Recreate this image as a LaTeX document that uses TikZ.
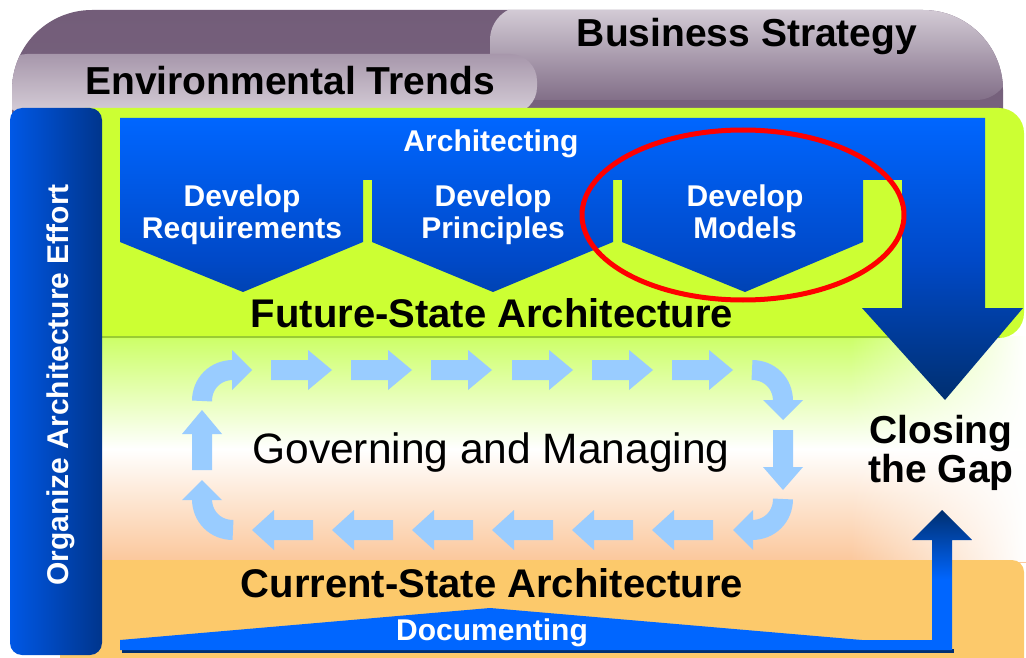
\documentclass[tikz,border=0pt]{standalone}
\usepackage{fontspec}
\setmainfont{Liberation Sans}
\usetikzlibrary{fadings}
\definecolor{purpD}{HTML}{735D79}
\definecolor{purpM}{HTML}{826F88}
\definecolor{lilac}{HTML}{D6CED8}
\definecolor{lilacM}{HTML}{A797AB}
\definecolor{limeG}{HTML}{CCFF33}
\definecolor{limeEdge}{HTML}{99CC33}
\definecolor{lightG}{HTML}{CCFF66}
\definecolor{peach}{HTML}{FBC79B}
\definecolor{orangeP}{HTML}{FCC96B}
\definecolor{cyc}{HTML}{99CCFF}
\definecolor{blueA}{HTML}{0066FF}
\definecolor{blueB}{HTML}{0049C8}
\definecolor{blueC}{HTML}{002F70}
\definecolor{barL}{HTML}{0058E6}
\definecolor{barR}{HTML}{00358C}
\tikzset{
  whitelbl/.style={font=\bfseries\fontsize{30}{32}\selectfont, text=white, inner sep=0pt, anchor=base},
  biglbl/.style={font=\bfseries\fontsize{40}{42}\selectfont, text=black, inner sep=0pt, anchor=base},
  toplbl/.style={font=\bfseries\fontsize{39}{41}\selectfont, text=black, inner sep=0pt, anchor=base},
  cycshaft/.style={draw=cyc, line width=20pt},
  cychead/.style={fill=cyc},
}
\begin{document}
\begin{tikzpicture}[x=1pt,y=-1pt]
\useasboundingbox (0,0) rectangle (1026,658);
\fill[white] (0,0) rectangle (1026,658);

% purple top band
\shade[top color=purpD, bottom color=purpM, rounded corners=80pt]
  (12,400) -- (12,10) -- (1003,10) -- (1003,400) -- cycle;
\begin{scope}
  \clip[rounded corners=80pt] (12,400) -- (12,10) -- (1003,10) -- (1003,400) -- cycle;
  \shade[top color=lilac, bottom color=purpM, rounded corners=34pt] (490,6) rectangle (1010,100);
  \shade[top color=lilacM, bottom color=lilac, rounded corners=27pt] (0,54) rectangle (537,114);
\end{scope}
\node[toplbl] (bs) at (747,47) {Business Strategy};
\node[toplbl] (et) at (290,95) {Environmental Trends};

% middle gradient band
\shade[top color=lightG, bottom color=peach, middle color=white] (60,336) rectangle (1026,562);
\fill[white, path fading=west] (850,336) rectangle (1026,562);

% future-state (green) panel
\fill[limeG, rounded corners=25pt] (60,108) rectangle (1024,338);
\draw[limeEdge, line width=2pt] (100,337) -- (1000,337);

% current-state (orange) panel
\fill[orangeP, rounded corners=12pt] (60,560) rectangle (1024,690);

% architecting blue shape with down arrow
\shade[top color=blueA, bottom color=blueC, middle color=blueB]
  (120,118) -- (985,118) -- (985,308) -- (1023,308) -- (945,400) -- (862,308)
  -- (902,308) -- (902,180) -- (863,180) -- (863,242) -- (745,292) -- (622,242)
  -- (622,180) -- (613,180) -- (613,242) -- (493,292) -- (372,242) -- (372,180)
  -- (363,180) -- (363,242) -- (243,292) -- (120,242) -- cycle;

\node[whitelbl] (arch) at (491,152) {Architecting};
\node[whitelbl] (dr1) at (242,207) {Develop};
\node[whitelbl] (dr2) at (242,238) {Requirements};
\node[whitelbl] (dp1) at (493,207) {Develop};
\node[whitelbl] (dp2) at (493,238) {Principles};
\node[whitelbl] (dm1) at (745,207) {Develop};
\node[whitelbl] (dm2) at (745,238) {Models};
\node[biglbl] (fsa) at (492,327) {Future-State Architecture};

% red highlight ellipse
\draw[red, line width=5pt] (743,215) ellipse [x radius=161, y radius=85];

% governing cycle arrows
\foreach \x in {271,351,431,512,592,672}
  \fill[cychead] (\x,360) -- ++(37,0) -- ++(0,-10) -- ++(24,20) -- ++(-24,20) -- ++(0,-10) -- ++(-37,0) -- cycle;
\foreach \x in {252,332,412,492,572,652}
  \fill[cychead] (\x,530) -- ++(22,-20) -- ++(0,10) -- ++(39,0) -- ++(0,20) -- ++(-39,0) -- ++(0,10) -- cycle;
% top-left corner
\draw[cycshaft] (202,401) .. controls (202,383.4) and (215.4,370) .. (233,370);
\fill[cychead] (232,350) -- (252,370) -- (232,390) -- cycle;
% top-right corner
\draw[cycshaft] (752,370) .. controls (769.6,370) and (783,383.4) .. (783,401);
\fill[cychead] (763,400) -- (783,420) -- (803,400) -- cycle;
% right down
\fill[cychead] (773,430) -- (793,430) -- (793,467) -- (803,467) -- (783,490) -- (763,467) -- (773,467) -- cycle;
% bottom-right corner
\draw[cycshaft] (783,499) .. controls (783,516.6) and (769.6,530) .. (752,530);
\fill[cychead] (753,510) -- (733,530) -- (753,550) -- cycle;
% bottom-left corner
\draw[cycshaft] (233,530) .. controls (215.4,530) and (202,516.6) .. (202,499);
\fill[cychead] (182,500) -- (202,480) -- (222,500) -- cycle;
% left up
\fill[cychead] (192,470) -- (212,470) -- (212,434) -- (222,434) -- (202,410) -- (182,434) -- (192,434) -- cycle;

\node[font=\fontsize{42.5}{44}\selectfont, inner sep=0pt, anchor=base] (gm) at (491,463) {Governing and Managing};

\node[toplbl] (cg1) at (941,443) {Closing};
\node[toplbl] (cg2) at (941,482) {the Gap};

% documenting shape with up arrow
\fill[blueC] (122,649) rectangle (954,653);
\shade[top color=blueC, bottom color=blueA, middle color=blueA]
  (120,650) -- (120,640) -- (490,608) -- (862,640) -- (932,640) -- (932,540)
  -- (912,540) -- (942,510) -- (972,540) -- (952,540) -- (952,650) -- cycle;
\node[whitelbl] (doc) at (492,640) {Documenting};
\node[biglbl] (csa) at (492,597) {Current-State Architecture};

% left bar
\shade[left color=barL, right color=barR, rounded corners=12pt] (10,108) rectangle (102,655);
\node[whitelbl, rotate=90] (org) at (68,385) {Organize Architecture Effort};
\end{tikzpicture}
\end{document}
